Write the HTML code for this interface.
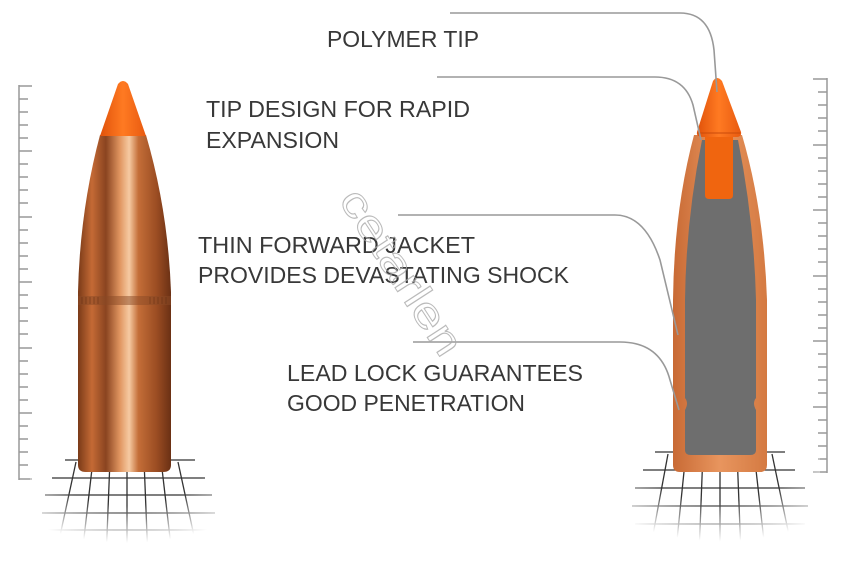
<!DOCTYPE html>
<html><head><meta charset="utf-8"><style>
html,body{margin:0;padding:0;background:#fff;width:850px;height:565px;overflow:hidden}
</style></head><body>
<svg width="850" height="565" viewBox="0 0 850 565" xmlns="http://www.w3.org/2000/svg">
<defs>
<linearGradient id="cu" x1="0" x2="1">
<stop offset="0" stop-color="#7a3a18"/><stop offset="0.15" stop-color="#c46a35"/><stop offset="0.3" stop-color="#8a4420"/>
<stop offset="0.45" stop-color="#e09560"/><stop offset="0.55" stop-color="#f6caa2"/><stop offset="0.65" stop-color="#c46e38"/>
<stop offset="0.85" stop-color="#9a4c22"/><stop offset="1" stop-color="#6a3014"/>
</linearGradient>
<linearGradient id="or" x1="0" x2="1">
<stop offset="0" stop-color="#e0520a"/><stop offset="0.5" stop-color="#ff7a22"/><stop offset="1" stop-color="#e85a10"/>
</linearGradient>
<linearGradient id="cu2" x1="0" x2="1">
<stop offset="0" stop-color="#c86a35"/><stop offset="0.5" stop-color="#e8955e"/><stop offset="1" stop-color="#d47a42"/>
</linearGradient>
<radialGradient id="gf" cx="0.5" cy="0.05" r="0.75">
<stop offset="0.55" stop-color="#fff" stop-opacity="0"/><stop offset="1" stop-color="#fff" stop-opacity="1"/>
</radialGradient>
</defs>

<g stroke="#999" stroke-width="1.5">
<line x1="19" y1="85" x2="19" y2="480"/>
<line x1="19" y1="86" x2="32" y2="86"/><line x1="19" y1="99" x2="28" y2="99"/><line x1="19" y1="112" x2="28" y2="112"/><line x1="19" y1="125" x2="28" y2="125"/><line x1="19" y1="138" x2="28" y2="138"/><line x1="19" y1="151" x2="32" y2="151"/><line x1="19" y1="164" x2="28" y2="164"/><line x1="19" y1="177" x2="28" y2="177"/><line x1="19" y1="190" x2="28" y2="190"/><line x1="19" y1="203" x2="28" y2="203"/><line x1="19" y1="217" x2="32" y2="217"/><line x1="19" y1="230" x2="28" y2="230"/><line x1="19" y1="243" x2="28" y2="243"/><line x1="19" y1="256" x2="28" y2="256"/><line x1="19" y1="269" x2="28" y2="269"/><line x1="19" y1="282" x2="32" y2="282"/><line x1="19" y1="295" x2="28" y2="295"/><line x1="19" y1="308" x2="28" y2="308"/><line x1="19" y1="321" x2="28" y2="321"/><line x1="19" y1="334" x2="28" y2="334"/><line x1="19" y1="348" x2="32" y2="348"/><line x1="19" y1="361" x2="28" y2="361"/><line x1="19" y1="374" x2="28" y2="374"/><line x1="19" y1="387" x2="28" y2="387"/><line x1="19" y1="400" x2="28" y2="400"/><line x1="19" y1="413" x2="32" y2="413"/><line x1="19" y1="426" x2="28" y2="426"/><line x1="19" y1="439" x2="28" y2="439"/><line x1="19" y1="452" x2="28" y2="452"/><line x1="19" y1="465" x2="28" y2="465"/><line x1="19" y1="479" x2="32" y2="479"/>
</g>
<g stroke="#999" stroke-width="1.5">
<line x1="827" y1="78" x2="827" y2="473"/>
<line x1="813" y1="79" x2="827" y2="79"/><line x1="818" y1="92" x2="827" y2="92"/><line x1="818" y1="105" x2="827" y2="105"/><line x1="818" y1="118" x2="827" y2="118"/><line x1="818" y1="131" x2="827" y2="131"/><line x1="813" y1="145" x2="827" y2="145"/><line x1="818" y1="158" x2="827" y2="158"/><line x1="818" y1="171" x2="827" y2="171"/><line x1="818" y1="184" x2="827" y2="184"/><line x1="818" y1="197" x2="827" y2="197"/><line x1="813" y1="210" x2="827" y2="210"/><line x1="818" y1="223" x2="827" y2="223"/><line x1="818" y1="236" x2="827" y2="236"/><line x1="818" y1="249" x2="827" y2="249"/><line x1="818" y1="262" x2="827" y2="262"/><line x1="813" y1="276" x2="827" y2="276"/><line x1="818" y1="289" x2="827" y2="289"/><line x1="818" y1="302" x2="827" y2="302"/><line x1="818" y1="315" x2="827" y2="315"/><line x1="818" y1="328" x2="827" y2="328"/><line x1="813" y1="341" x2="827" y2="341"/><line x1="818" y1="354" x2="827" y2="354"/><line x1="818" y1="367" x2="827" y2="367"/><line x1="818" y1="380" x2="827" y2="380"/><line x1="818" y1="393" x2="827" y2="393"/><line x1="813" y1="407" x2="827" y2="407"/><line x1="818" y1="420" x2="827" y2="420"/><line x1="818" y1="433" x2="827" y2="433"/><line x1="818" y1="446" x2="827" y2="446"/><line x1="818" y1="459" x2="827" y2="459"/><line x1="813" y1="472" x2="827" y2="472"/>
</g>

<g stroke="#333" stroke-width="1.3">
<line x1="65" y1="460" x2="195" y2="460"/><line x1="52" y1="478" x2="205" y2="478"/><line x1="45" y1="495" x2="212" y2="495"/><line x1="42" y1="513" x2="215" y2="513"/><line x1="45" y1="530" x2="212" y2="530"/><line x1="55" y1="547" x2="200" y2="547"/>
<line x1="127" y1="460" x2="127" y2="560"/><line x1="110" y1="460" x2="106" y2="560"/><line x1="93" y1="460" x2="82" y2="555"/><line x1="76" y1="462" x2="58" y2="545"/><line x1="144" y1="460" x2="148" y2="560"/><line x1="161" y1="460" x2="172" y2="555"/><line x1="178" y1="462" x2="196" y2="545"/>
</g>
<rect x="30" y="455" width="195" height="110" fill="url(#gf)"/>
<g stroke="#333" stroke-width="1.3">
<line x1="655" y1="452" x2="785" y2="452"/><line x1="643" y1="470" x2="795" y2="470"/><line x1="635" y1="488" x2="805" y2="488"/><line x1="632" y1="506" x2="808" y2="506"/><line x1="635" y1="524" x2="805" y2="524"/><line x1="645" y1="542" x2="795" y2="542"/>
<line x1="720" y1="452" x2="720" y2="555"/><line x1="703" y1="452" x2="699" y2="555"/><line x1="686" y1="452" x2="676" y2="550"/><line x1="668" y1="454" x2="652" y2="540"/><line x1="737" y1="452" x2="741" y2="555"/><line x1="754" y1="452" x2="765" y2="550"/><line x1="772" y1="454" x2="790" y2="540"/>
</g>
<rect x="620" y="447" width="200" height="118" fill="url(#gf)"/>

<!-- left bullet -->
<path d="M100,135 L146,135 Q168,210 171,292 L171,465 Q171,472 163,472 L86,472 Q78,472 78,465 L78,292 Q80,210 100,135 Z" fill="url(#cu)"/>
<rect x="78" y="296" width="93" height="9" fill="#8a4a25" opacity="0.5"/>
<g stroke="#5a2810" stroke-width="0.6" opacity="0.7">
<line x1="82" y1="297" x2="82" y2="304"/><line x1="86" y1="297" x2="86" y2="304"/><line x1="90" y1="297" x2="90" y2="304"/><line x1="94" y1="297" x2="94" y2="304"/><line x1="98" y1="297" x2="98" y2="304"/><line x1="150" y1="297" x2="150" y2="304"/><line x1="154" y1="297" x2="154" y2="304"/><line x1="158" y1="297" x2="158" y2="304"/><line x1="162" y1="297" x2="162" y2="304"/><line x1="166" y1="297" x2="166" y2="304"/>
</g>
<path d="M100,136 L118,84 Q123,78 128,84 L146,136 Z" fill="url(#or)"/>

<!-- right bullet -->
<path d="M694,135 L742,135 Q764,210 767,300 L767,465 Q767,472 760,472 L680,472 Q673,472 673,465 L673,300 Q674,210 694,135 Z" fill="url(#cu2)"/>
<path d="M702,140 L738,140 Q754,220 756,300 L756,398 Q752,403 756,410 L756,450 Q756,455 750,455 L691,455 Q685,455 685,450 L685,410 Q689,403 685,398 L685,300 Q686,220 702,140 Z" fill="#6e6e6e"/>
<path d="M705,135 L733,135 L733,195 Q733,199 729,199 L709,199 Q705,199 705,195 Z" fill="#f0650f"/>
<path d="M697,132 L713,81 Q717,75 722,81 L741,132 Q742,137 736,137 L703,137 Q696,137 697,132 Z" fill="url(#or)"/>
<line x1="698" y1="133" x2="740" y2="133" stroke="#c94a0a" stroke-width="1"/>

<g stroke="#999" stroke-width="1.6" fill="none">
<path d="M450,13 L680,13 Q710,13 714,50 L717,92"/>
<path d="M437,77 L655,77 Q685,77 693,105 L701,140"/>
<path d="M398,215 L615,215 Q645,215 660,260 L678,335"/>
<path d="M413,342 L620,342 Q660,342 670,380 L679,410"/>
</g>

<g font-family="Liberation Sans, DejaVu Sans, sans-serif" font-size="23" fill="#383838">
<text x="327" y="47" textLength="152" lengthAdjust="spacingAndGlyphs">POLYMER TIP</text>
<text x="206" y="117" textLength="264" lengthAdjust="spacingAndGlyphs">TIP DESIGN FOR RAPID</text>
<text x="206" y="148" textLength="133" lengthAdjust="spacingAndGlyphs">EXPANSION</text>
<text x="198" y="253" textLength="277" lengthAdjust="spacingAndGlyphs">THIN FORWARD JACKET</text>
<text x="198" y="283" textLength="371" lengthAdjust="spacingAndGlyphs">PROVIDES DEVASTATING SHOCK</text>
<text x="287" y="381" textLength="296" lengthAdjust="spacingAndGlyphs">LEAD LOCK GUARANTEES</text>
<text x="287" y="411" textLength="238" lengthAdjust="spacingAndGlyphs">GOOD PENETRATION</text>
</g>
<text x="338" y="200" font-family="Liberation Sans, sans-serif" font-size="42" fill="none" stroke="#aaa" stroke-width="1" transform="rotate(57 338 200)" opacity="0.8" textLength="190" lengthAdjust="spacingAndGlyphs">cetarlen</text>
</svg>
</body></html>
